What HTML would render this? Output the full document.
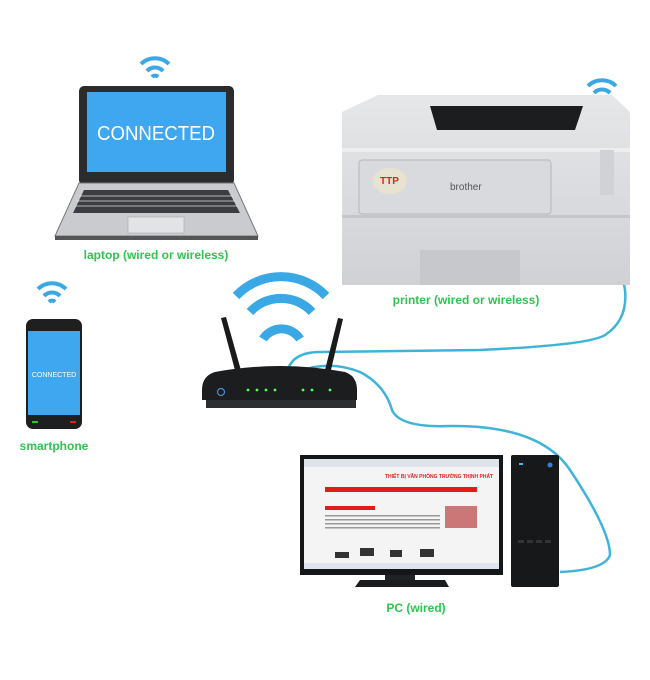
<!DOCTYPE html>
<html><head><meta charset="utf-8"><style>
html,body{margin:0;padding:0;background:#fff;}
svg{display:block}
text{font-family:"Liberation Sans",sans-serif;}
</style></head><body>
<svg width="650" height="680" viewBox="0 0 650 680" xmlns="http://www.w3.org/2000/svg">
<defs>
<linearGradient id="pg" x1="0" y1="0" x2="0" y2="1"><stop offset="0" stop-color="#e6e7e9"/><stop offset="1" stop-color="#cfd1d4"/></linearGradient>
<linearGradient id="kb" x1="0" y1="0" x2="0" y2="1"><stop offset="0" stop-color="#9a9da1"/><stop offset="1" stop-color="#e5e6e8"/></linearGradient>
</defs>
<!-- cables -->
<g fill="none" stroke="#3fb4d8" stroke-width="2.5">
<path d="M287 372 Q292 352 320 352 L480 350 Q590 345 605 335 Q628 320 625 290 Q622 265 590 262"/>
<path d="M300 371 Q330 360 360 372 Q385 385 392 410 Q400 428 450 426 Q540 425 570 470 Q610 530 610 555 Q605 570 560 572"/>
</g>
<!-- wifi icons -->
<g fill="none" stroke="#3aa8e4" stroke-linecap="butt">
<g stroke-width="4"><path d="M141 64 A20 20 0 0 1 169 64"/><path d="M147 71 A11 11 0 0 1 163 71"/><path d="M152 77 A4 4 0 0 1 158 77"/></g>
<g stroke-width="4"><path d="M588 86 A20 20 0 0 1 616 86"/><path d="M594 93 A11 11 0 0 1 610 93"/><path d="M599 99 A4 4 0 0 1 605 99"/></g>
<g stroke-width="4"><path d="M38 289 A20 20 0 0 1 66 289"/><path d="M44 296 A11 11 0 0 1 60 296"/><path d="M49 302 A4 4 0 0 1 55 302"/></g>
<g stroke-width="9"><path d="M236 296 A62 62 0 0 1 326 296"/><path d="M250 312 A42 42 0 0 1 312 312"/><path d="M263 339 A22 22 0 0 1 300 339"/></g>
</g>
<!-- laptop -->
<rect x="79" y="86" width="155" height="99" rx="5" fill="#2a2c2e"/>
<rect x="87" y="92" width="139" height="80" fill="#3fa7ef"/>
<text x="156" y="140" font-size="20" fill="#fff" text-anchor="middle" textLength="118" lengthAdjust="spacingAndGlyphs">CONNECTED</text>
<path d="M79 183 L234 183 L258 236 L55 236 Z" fill="#c9cbce" stroke="#777" stroke-width="1"/>
<path d="M84 190 L228 190 L240 213 L73 213 Z" fill="#3b3d40"/>
<g stroke="#ddd" stroke-width="0.8"><path d="M78 196 H234 M76 201 H236 M75 206 H238"/></g>
<rect x="128" y="217" width="56" height="16" fill="#e2e3e5" stroke="#aaa" stroke-width="0.6"/>
<rect x="55" y="236" width="203" height="4" fill="#555"/>
<text x="156" y="259" font-size="12" font-weight="bold" fill="#2fc551" text-anchor="middle">laptop (wired or wireless)</text>
<!-- printer -->
<path d="M378 95 L612 95 L630 112 L630 285 L342 285 L342 112 Z" fill="url(#pg)"/>
<path d="M430 106 L583 106 L575 130 L437 130 Z" fill="#1c1d1f"/>
<rect x="342" y="148" width="288" height="4" fill="#eceef0"/>
<rect x="359" y="160" width="192" height="54" rx="3" fill="#d9dadd" stroke="#b5b7ba"/>
<ellipse cx="390" cy="181" rx="17" ry="13" fill="#e8e2d0"/>
<text x="380" y="184" font-size="10" font-weight="bold" fill="#d22">TTP</text>
<text x="450" y="190" font-size="10" fill="#555">brother</text>
<rect x="342" y="215" width="288" height="3" fill="#c4c6c9"/>
<rect x="420" y="250" width="100" height="35" fill="#c6c8cb"/>
<rect x="600" y="150" width="14" height="45" fill="#d0d2d5"/>
<text x="466" y="304" font-size="12" font-weight="bold" fill="#2fc551" text-anchor="middle">printer (wired or wireless)</text>
<!-- phone -->
<rect x="26" y="319" width="56" height="110" rx="7" fill="#1e1f21"/>
<rect x="28" y="331" width="52" height="84" fill="#3fa7ef"/>
<text x="54" y="377" font-size="7" fill="#fff" text-anchor="middle">CONNECTED</text>
<rect x="32" y="421" width="6" height="2" fill="#2c2"/><rect x="70" y="421" width="6" height="2" fill="#d22"/>
<text x="54" y="450" font-size="12" font-weight="bold" fill="#2fc551" text-anchor="middle">smartphone</text>
<!-- router -->
<path d="M221 318 L226 317 L242 374 L236 374 Z" fill="#1a1a1a"/>
<path d="M338 318 L343 319 L330 374 L324 374 Z" fill="#1a1a1a"/>
<path d="M215 372 Q280 360 345 372 Q357 376 357 390 L357 400 L202 400 L202 390 Q202 376 215 372 Z" fill="#1c1d1f"/>
<rect x="206" y="400" width="150" height="8" fill="#2d2e30"/>
<circle cx="221" cy="392" r="3.5" fill="none" stroke="#4a8cd0" stroke-width="1.2"/>
<g fill="#5f5"><circle cx="248" cy="390" r="1.4"/><circle cx="257" cy="390" r="1.4"/><circle cx="266" cy="390" r="1.4"/><circle cx="275" cy="390" r="1.4"/><circle cx="303" cy="390" r="1.4"/><circle cx="312" cy="390" r="1.4"/><circle cx="330" cy="390" r="1.4"/></g>
<!-- monitor -->
<rect x="300" y="455" width="203" height="120" fill="#151618"/>
<rect x="304" y="459" width="195" height="110" fill="#f4f4f4"/>
<rect x="304" y="459" width="195" height="8" fill="#dfe3ea"/>
<rect x="325" y="487" width="152" height="5" fill="#e21b1b"/>
<text x="385" y="478" font-size="5" font-weight="bold" fill="#d22">THIẾT BỊ VĂN PHÒNG TRƯỜNG THỊNH PHÁT</text>
<rect x="325" y="506" width="50" height="4" fill="#e21b1b"/>
<rect x="445" y="506" width="32" height="22" fill="#c77"/>
<g fill="#999"><rect x="325" y="515" width="115" height="1.5"/><rect x="325" y="519" width="115" height="1.5"/><rect x="325" y="523" width="115" height="1.5"/><rect x="325" y="527" width="115" height="1.5"/></g>
<g fill="#333"><rect x="335" y="552" width="14" height="6"/><rect x="360" y="548" width="14" height="8"/><rect x="390" y="550" width="12" height="7"/><rect x="420" y="549" width="14" height="8"/></g>
<rect x="304" y="563" width="195" height="6" fill="#e0e4ec"/>
<rect x="385" y="575" width="30" height="5" fill="#222"/>
<path d="M360 580 L445 580 L449 587 L355 587 Z" fill="#1b1c1e"/>
<!-- tower -->
<rect x="511" y="455" width="48" height="132" rx="2" fill="#17181a"/>
<circle cx="550" cy="465" r="2.5" fill="#3a7bd5"/>
<rect x="519" y="463" width="4" height="2" fill="#3ac0e8"/>
<g fill="#333"><rect x="518" y="540" width="6" height="3"/><rect x="527" y="540" width="6" height="3"/><rect x="536" y="540" width="6" height="3"/><rect x="545" y="540" width="6" height="3"/></g>
<text x="416" y="612" font-size="12" font-weight="bold" fill="#2fc551" text-anchor="middle">PC (wired)</text>
</svg>
</body></html>
